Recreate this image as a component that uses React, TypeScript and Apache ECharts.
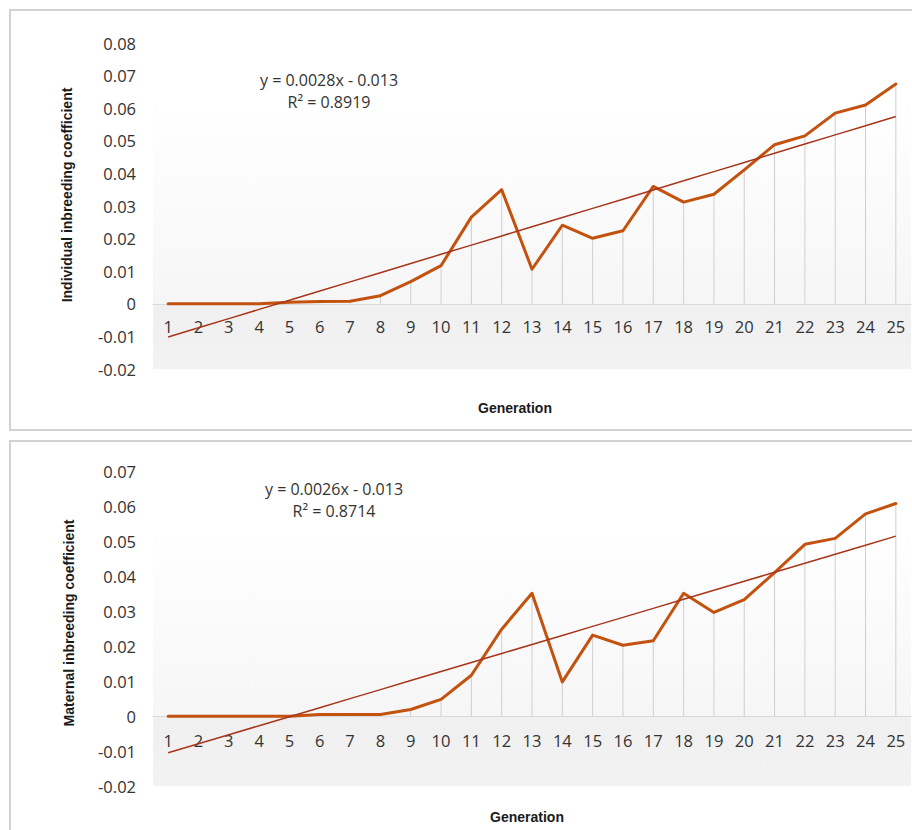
import React, { useEffect, useRef } from 'react';
import * as echarts from 'echarts';

const generations = ['1', '2', '3', '4', '5', '6', '7', '8', '9', '10', '11', '12', '13', '14', '15', '16', '17', '18', '19', '20', '21', '22', '23', '24', '25'];

const individualF = [0, 0, 0, 0, 0.0005, 0.0007, 0.0008, 0.0025, 0.0068, 0.0117, 0.0266, 0.035, 0.0106, 0.0241, 0.0201, 0.0224, 0.036, 0.0312, 0.0336, 0.0411, 0.0488, 0.0515, 0.0585, 0.061, 0.0674];
const maternalF = [0, 0, 0, 0, 0, 0.0005, 0.0005, 0.0005, 0.0019, 0.0048, 0.0117, 0.0249, 0.0352, 0.0098, 0.0232, 0.0203, 0.0216, 0.0352, 0.0297, 0.0334, 0.0411, 0.0492, 0.0509, 0.0579, 0.0609];

const individualEq = ['y = 0.0028x - 0.013', 'R² = 0.8919'];
const maternalEq = ['y = 0.0026x - 0.013', 'R² = 0.8714'];

const xName = 'Generation';
const individualYName = 'Individual inbreeding coefficient';
const maternalYName = 'Maternal inbreeding coefficient';

const Y_MIN = -0.02;

const DATA_COLOR = '#c4520f';
const TREND_COLOR = '#a8351a';
const LABEL_FONT = '"Open Sans", "Noto Sans", sans-serif';
const NAME_FONT = '"Liberation Sans", Arial, sans-serif';

function linearTrend(vals: number[]): number[] {
  const n = vals.length;
  let sx = 0, sy = 0, sxx = 0, sxy = 0;
  vals.forEach((v, i) => {
    const x = i + 1;
    sx += x; sy += v; sxx += x * x; sxy += x * v;
  });
  const slope = (n * sxy - sx * sy) / (n * sxx - sx * sx);
  const intercept = (sy - slope * sx) / n;
  return vals.map((_, i) => +(intercept + slope * (i + 1)).toFixed(5));
}

interface Cfg {
  values: number[];
  yMax: number;
  gridTop: number;
  gridHeight: number;
  gradStart: number;
  yName: string;
  yNamePos: [number, number];
  eq: string[];
  eqPos: [number, number];
  xNamePos: [number, number];
  labelMargin: number;
}

function makeOption(c: Cfg): any {
  const trend = linearTrend(c.values);
  const zeroFrac = c.yMax / (c.yMax - Y_MIN);
  const zeroFromBottom = c.gridHeight * (1 - zeroFrac);
  return {
    animation: false,
    grid: {
      left: 153,
      right: 1,
      top: c.gridTop,
      height: c.gridHeight,
      show: true,
      borderWidth: 0,
      backgroundColor: new echarts.graphic.LinearGradient(0, 0, 0, 1, [
        { offset: 0, color: '#ffffff' },
        { offset: c.gradStart, color: '#ffffff' },
        { offset: zeroFrac, color: '#f6f6f6' },
        { offset: zeroFrac + 0.001, color: '#f0f0f0' },
        { offset: 1, color: '#f2f2f2' },
      ]),
    },
    xAxis: {
      type: 'category',
      data: generations,
      boundaryGap: true,
      offset: -zeroFromBottom,
      axisLine: { show: true, onZero: false, lineStyle: { color: '#d9d9d9', width: 1 } },
      axisTick: { show: false },
      axisLabel: { color: '#333333', fontSize: 16.5, fontFamily: LABEL_FONT, margin: c.labelMargin, interval: 0 },
      splitLine: { show: false },
    },
    yAxis: {
      type: 'value',
      min: Y_MIN,
      max: c.yMax,
      interval: 0.01,
      axisLine: { show: false },
      axisTick: { show: false },
      splitLine: { show: false },
      axisLabel: {
        color: '#333333',
        fontSize: 16.5,
        fontFamily: LABEL_FONT,
        margin: 17,
        formatter: (v: number) => String(+v.toFixed(2)),
      },
    },
    graphic: [
      {
        type: 'text',
        x: c.yNamePos[0],
        y: c.yNamePos[1],
        rotation: Math.PI / 2,
        style: {
          text: c.yName,
          fill: '#1a1a1a',
          font: `bold 14px ${NAME_FONT}`,
          textAlign: 'center',
          textVerticalAlign: 'middle',
        },
      },
      {
        type: 'text',
        x: c.xNamePos[0],
        y: c.xNamePos[1],
        style: {
          text: xName,
          fill: '#1a1a1a',
          font: `bold 14px ${NAME_FONT}`,
          textAlign: 'center',
          textVerticalAlign: 'middle',
        },
      },
      {
        type: 'text',
        x: c.eqPos[0],
        y: c.eqPos[1],
        style: {
          text: c.eq[0],
          fill: '#333333',
          font: `16px ${LABEL_FONT}`,
          textAlign: 'center',
          textVerticalAlign: 'middle',
        },
      },
      {
        type: 'text',
        x: c.eqPos[0],
        y: c.eqPos[1] + 22,
        style: {
          text: c.eq[1],
          fill: '#333333',
          font: `16px ${LABEL_FONT}`,
          textAlign: 'center',
          textVerticalAlign: 'middle',
        },
      },
    ],
    series: [
      {
        type: 'bar',
        data: c.values,
        barWidth: 1,
        itemStyle: { color: '#cfcfcf' },
        silent: true,
        z: 1,
      },
      {
        type: 'line',
        data: c.values,
        symbol: 'none',
        lineStyle: { color: DATA_COLOR, width: 3, join: 'round', cap: 'round' },
        z: 3,
      },
      {
        type: 'line',
        data: trend,
        symbol: 'none',
        lineStyle: { color: TREND_COLOR, width: 1.5 },
        z: 4,
      },
    ],
  };
}

function Chart({ style, option }: { style: React.CSSProperties; option: any }) {
  const ref = useRef<HTMLDivElement>(null);
  useEffect(() => {
    if (!ref.current) return;
    const chart = echarts.init(ref.current, null, { renderer: 'svg' });
    chart.setOption(option);
    return () => chart.dispose();
  }, [option]);
  return <div ref={ref} style={style} />;
}

const topOption = makeOption({
  values: individualF,
  yMax: 0.08,
  gridTop: 43,
  gridHeight: 326,
  gradStart: 0.17,
  yName: individualYName,
  yNamePos: [67, 195],
  eq: individualEq,
  eqPos: [329, 80],
  xNamePos: [515, 408],
  labelMargin: 14,
});

const bottomOption = makeOption({
  values: maternalF,
  yMax: 0.07,
  gridTop: 35.7,
  gridHeight: 314.3,
  gradStart: 0.175,
  yName: maternalYName,
  yNamePos: [69, 187],
  eq: maternalEq,
  eqPos: [334, 53],
  xNamePos: [527, 381],
  labelMargin: 16,
});

export default function App() {
  return (
    <div style={{ position: 'fixed', left: 0, top: 0, width: 912, height: 830, overflow: 'hidden', background: '#fff' }}>
      <Chart option={topOption} style={{ position: 'absolute', left: 0, top: 0, width: 912, height: 436 }} />
      <Chart option={bottomOption} style={{ position: 'absolute', left: 0, top: 436, width: 912, height: 394 }} />
      <div style={{ position: 'absolute', left: 9, top: 9, width: 930, height: 422, border: '2px solid #d2d2d2', boxSizing: 'border-box', pointerEvents: 'none' }} />
      <div style={{ position: 'absolute', left: 9, top: 440, width: 930, height: 420, border: '2px solid #d2d2d2', boxSizing: 'border-box', pointerEvents: 'none' }} />
    </div>
  );
}
